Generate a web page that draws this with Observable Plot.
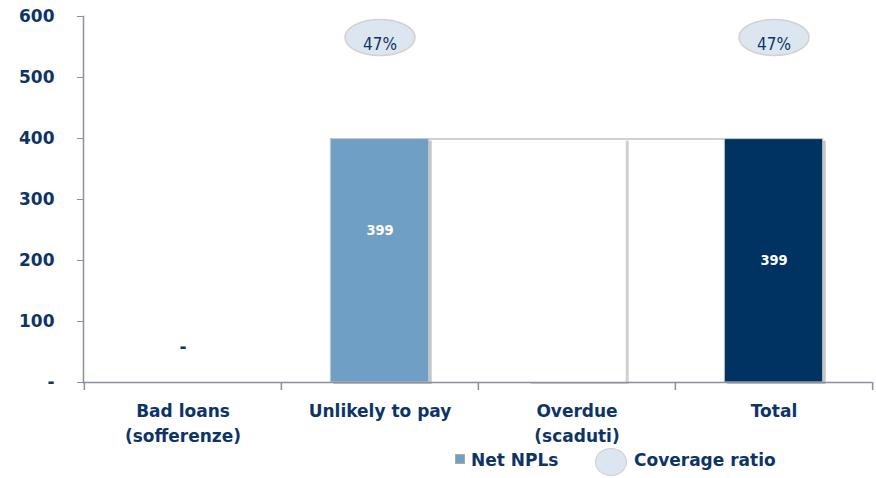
<!DOCTYPE html>
<html><head><meta charset="utf-8">
<script src="https://cdn.jsdelivr.net/npm/d3@7"></script>
<script src="https://cdn.jsdelivr.net/npm/@observablehq/plot@0.6"></script>
<style>
body{margin:0;background:#fff;font-family:"DejaVu Sans",sans-serif;}
#wrap{width:876px;}
#legend{position:relative;height:30px;width:876px;color:#0e3466;font-weight:bold;font-size:17px;}
#legend .sw{position:absolute;left:455px;top:6px;width:10px;height:10px;background:#6f9fc4;border:1px solid #a9a9a9;box-sizing:border-box;}
#legend .t1{position:absolute;left:471px;top:2px;}
#legend .el{position:absolute;left:595px;top:0px;width:32px;height:28px;border-radius:50%;background:#dce6f0;border:1.5px solid #d0d0d0;box-sizing:border-box;}
#legend .t2{position:absolute;left:634px;top:2px;}
</style></head>
<body><div id="wrap"><div id="chart"></div>
<div id="legend"><div class="sw"></div><span class="t1">Net NPLs</span><div class="el"></div><span class="t2">Coverage ratio</span></div></div>
<script>
const categories = ["Bad loans", "Unlikely to pay", "Overdue", "Total"];
const tickLabels = ["Bad loans\n(sofferenze)", "Unlikely to pay", "Overdue\n(scaduti)", "Total"];
const netNPLs = [0, 399, 0, 399];
const waterfallBase = [0, 0, 399, 0];
const coverage = ["", "47%", "", "47%"];
const valueLabels = ["-", "399", "", "399"];
const yTicks = [0, 100, 200, 300, 400, 500, 600];
const yTickLabels = ["-", "100", "200", "300", "400", "500", "600"];

const navy = "#0e3466";
const axisGrey = "#8c8fa0";
const barColors = {"Unlikely to pay": "#6f9fc4", "Total": "#003262"};

const rows = categories.map((c, i) => ({cat: c, v: netNPLs[i], base: waterfallBase[i], cov: coverage[i], lab: valueLabels[i]}));
const bars = rows.filter(d => d.v > 0);
const baseBars = rows.filter(d => d.base > 0);

const W = 876, H = 448, ML = 83, MR = 4;
const bw = (W - ML - MR) / categories.length;
const inset = bw * 0.25;

const ellipse = {
  draw(ctx) {
    const rx = 35, ry = 18, k = 0.5523;
    ctx.moveTo(rx, 0);
    ctx.bezierCurveTo(rx, ry * k, rx * k, ry, 0, ry);
    ctx.bezierCurveTo(-rx * k, ry, -rx, ry * k, -rx, 0);
    ctx.bezierCurveTo(-rx, -ry * k, -rx * k, -ry, 0, -ry);
    ctx.bezierCurveTo(rx * k, -ry, rx, -ry * k, rx, 0);
    ctx.closePath();
  }
};

const font = "DejaVu Sans, sans-serif";
const cond = "DejaVu Sans Condensed, DejaVu Sans, sans-serif";

const chart = Plot.plot({
  width: W, height: H,
  marginLeft: ML, marginRight: MR, marginTop: 16, marginBottom: 66,
  style: {fontFamily: font, background: "#fff"},
  x: {type: "band", domain: categories, padding: 0},
  y: {domain: [0, 600]},
  marks: [
    // shadows
    Plot.barY(bars, {x: "cat", y: "v", fill: "#b5b5b5", insetLeft: inset, insetRight: inset, dx: 3, dy: 2, fillOpacity: 0.8}),
    Plot.barY(baseBars, {x: "cat", y: "base", fill: "#c4c4c4", insetLeft: inset, insetRight: inset, dx: 3, dy: 2, fillOpacity: 0.8}),
    Plot.barY(baseBars, {x: "cat", y: "base", fill: "#ffffff", insetLeft: inset, insetRight: inset}),
    Plot.ruleY(bars.slice(0, 1), {y: "v", x1: () => "Unlikely to pay", x2: () => "Total", insetLeft: inset, insetRight: bw - inset, stroke: "#c0c0c0", strokeWidth: 1.5}),
    Plot.barY(bars, {x: "cat", y: "v", fill: d => barColors[d.cat], stroke: "#c8c8c8", strokeWidth: 1, insetLeft: inset, insetRight: inset}),
    // axes
    Plot.ruleY([0], {stroke: axisGrey, strokeWidth: 1.5}),
    Plot.frame({anchor: "left", stroke: axisGrey, strokeWidth: 1.5}),
    Plot.axisY({ticks: yTicks, tickSize: 6, tickPadding: 23, tickFormat: d => yTickLabels[yTicks.indexOf(d)],
      stroke: axisGrey, fill: navy, fontSize: 17, fontWeight: "bold", label: null}),
    Plot.axisX({tickSize: 0, tickPadding: 16, tickFormat: d => tickLabels[categories.indexOf(d)],
      fill: navy, fontSize: 17, fontWeight: "bold", lineHeight: 1.5, label: null}),
    Plot.axisX({tickSize: 8, dx: -bw / 2, tickFormat: () => "", stroke: axisGrey, strokeWidth: 1.5, label: null}),
    Plot.axisX({ticks: ["Total"], tickSize: 8, dx: bw / 2, tickFormat: () => "", stroke: axisGrey, strokeWidth: 1.5, label: null}),
    // value labels
    Plot.text(rows.filter(d => d.cat === "Unlikely to pay"), {x: "cat", y: d => d.v / 2, dy: -30, text: "lab", fill: "#fff", fontSize: 14.5, fontWeight: "bold", fontFamily: cond}),
    Plot.text(rows.filter(d => d.cat === "Total"), {x: "cat", y: d => d.v / 2, text: "lab", fill: "#fff", fontSize: 14.5, fontWeight: "bold", fontFamily: cond}),
    Plot.text(rows.filter(d => d.v === 0 && d.lab), {x: "cat", y: "v", dy: -35, text: "lab", fill: navy, fontSize: 17, fontWeight: "bold"}),
    // coverage ellipses
    Plot.dot(rows.filter(d => d.cov), {x: "cat", frameAnchor: "top", dy: 21, symbol: ellipse, fill: "#dce6f0", stroke: "#d2d2d2", strokeWidth: 1.5}),
    Plot.text(rows.filter(d => d.cov), {x: "cat", frameAnchor: "top", dy: 21, text: "cov", fill: navy, fontSize: 17, fontFamily: cond})
  ]
});
document.getElementById("chart").appendChild(chart);
</script></body></html>
